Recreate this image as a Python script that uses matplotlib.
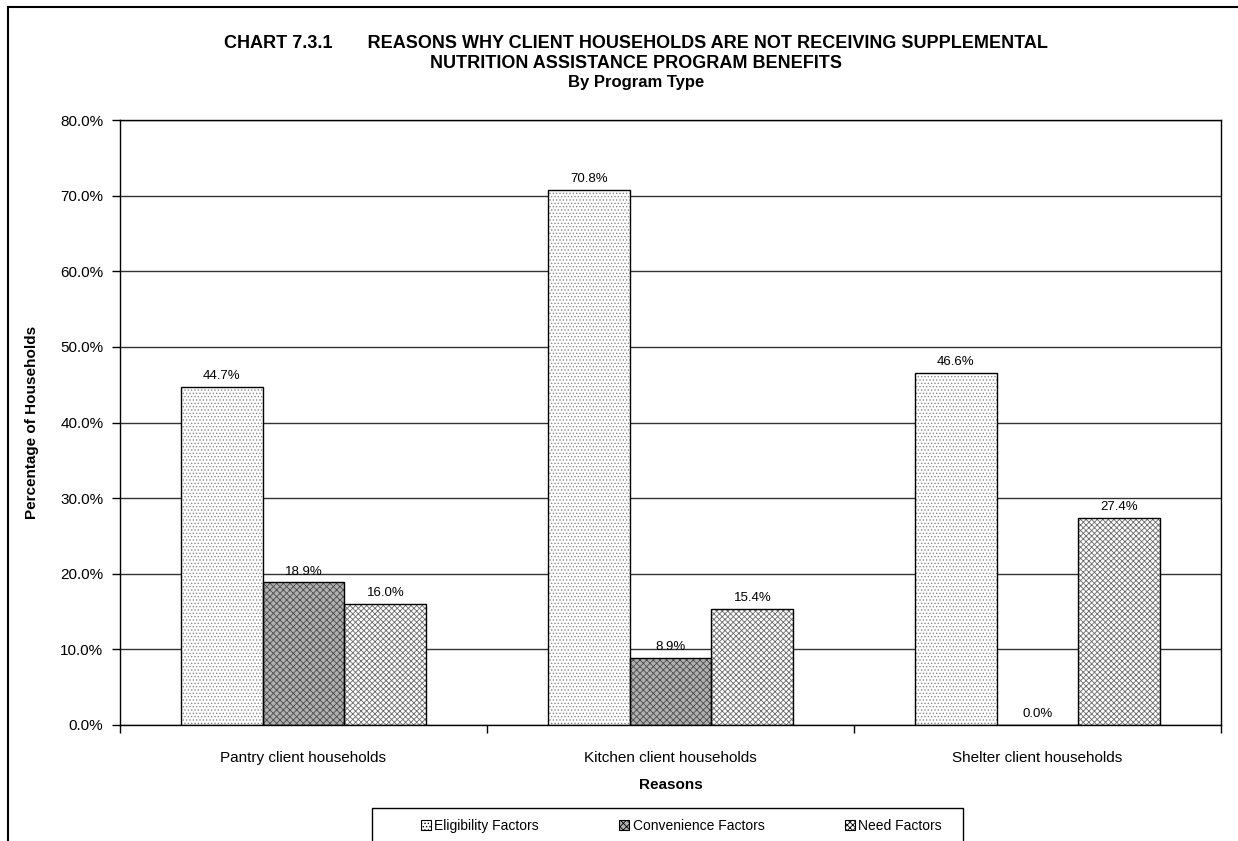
import matplotlib
matplotlib.use('Agg')
from matplotlib import pyplot as plt
from matplotlib.patches import Patch, Rectangle
from matplotlib.lines import Line2D
import numpy as np

plt.rcParams['font.family'] = ['Liberation Sans', 'DejaVu Sans']
plt.rcParams['hatch.linewidth'] = 0.6

categories = ['Pantry client households', 'Kitchen client households', 'Shelter client households']
series_names = ['Eligibility Factors', 'Convenience Factors', 'Need Factors']
eligibility = [44.7, 70.8, 46.6]
convenience = [18.9, 8.9, 0.0]
need = [16.0, 15.4, 27.4]
y_ticks = [0, 10, 20, 30, 40, 50, 60, 70, 80]

series = [eligibility, convenience, need]
# face colour, hatch, hatch colour
styles = [('#ffffff', '.....', '#8a8a8a'),
          ('#b0b0b0', 'xxxxx', '#4a4a4a'),
          ('#ffffff', 'xxxxxx', '#6a6a6a')]

W, H = 1238, 841
fig = plt.figure(figsize=(W / 100, H / 100), dpi=100)
ax = fig.add_axes([120 / W, 116 / H, (1221 - 120) / W, (725 - 120) / H])

x = np.arange(len(categories))
w = 0.223
for i, vals in enumerate(series):
    fc, hatch, hc = styles[i]
    pos = x + (i - 1) * w
    ax.bar(pos, vals, w, color=fc, hatch=hatch, edgecolor=hc, linewidth=0, zorder=2)
    ax.bar(pos, vals, w, fill=False, edgecolor='black', linewidth=1.0, zorder=3)
    for p, v in zip(pos, vals):
        ax.text(p, v + 0.6, '%.1f%%' % v, ha='center', va='bottom', fontsize=9.5)

ax.set_xlim(-0.5, 2.5)
ax.set_ylim(0, 80)
ax.set_yticks(y_ticks)
ax.set_yticklabels(['%.1f%%' % t for t in y_ticks], fontsize=11)
ax.yaxis.grid(True, color='#333333', linewidth=1.0, zorder=0)
ax.set_axisbelow(True)
ax.tick_params(axis='y', direction='out', length=6, width=1, pad=6)

ax.set_xticks(x)
ax.set_xticklabels(categories, fontsize=11)
ax.tick_params(axis='x', which='major', length=0, pad=19)
ax.set_xticks([-0.5, 0.5, 1.5, 2.5], minor=True)
ax.tick_params(axis='x', which='minor', direction='out', length=6, width=1)

for s in ax.spines.values():
    s.set_linewidth(1.0)
    s.set_color('black')

ax.set_xlabel('Reasons', fontsize=11, fontweight='bold', labelpad=9)
ax.set_ylabel('Percentage of Households', fontsize=11, fontweight='bold', labelpad=15)

# title
fig.text(636 / W, 1 - 43 / H, 'CHART 7.3.1       REASONS WHY CLIENT HOUSEHOLDS ARE NOT RECEIVING SUPPLEMENTAL',
         ha='center', va='center', fontsize=13, fontweight='bold')
fig.text(636 / W, 1 - 63 / H, 'NUTRITION ASSISTANCE PROGRAM BENEFITS',
         ha='center', va='center', fontsize=13, fontweight='bold')
fig.text(636 / W, 1 - 83 / H, 'By Program Type',
         ha='center', va='center', fontsize=12, fontweight='bold')

# legend box (bottom edge falls outside the figure)
fig.add_artist(Rectangle((372 / W, -0.05), (963 - 372) / W, 0.05 + 1 - 808 / H,
                         transform=fig.transFigure, fill=False, edgecolor='black', linewidth=1.0))
handles = [Patch(facecolor=fc, hatch=h, edgecolor='black', linewidth=0.8) for fc, h, hc in styles]
fig.legend(handles, series_names, loc='center left', bbox_to_anchor=(421 / W, 1 - 826 / H),
           ncol=3, fontsize=10, frameon=False,
           handlelength=0.7, handleheight=0.7, handletextpad=0.25, columnspacing=5.8,
           borderpad=0, borderaxespad=0)

# outer frame (top and left edges)
fig.add_artist(Line2D([8 / W, 1.0], [1 - 7 / H, 1 - 7 / H], transform=fig.transFigure, color='black', linewidth=1.5))
fig.add_artist(Line2D([8 / W, 8 / W], [0, 1 - 7 / H], transform=fig.transFigure, color='black', linewidth=1.5))

fig.savefig('out.png', dpi=100)
